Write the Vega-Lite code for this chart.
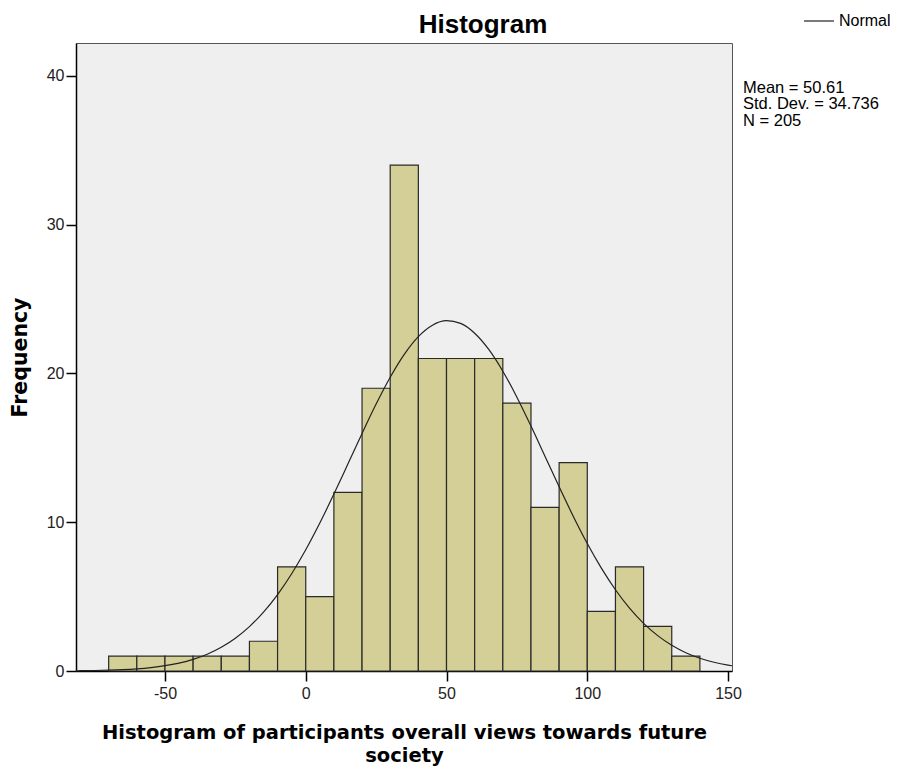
{
  "$schema": "https://vega.github.io/schema/vega-lite/v6.json",
  "autosize": {"type": "none"},
  "width": 656,
  "height": 628,
  "padding": {"left": 76, "top": 43, "right": 168, "bottom": 102},
  "background": "white",
  "title": {
    "text": "Histogram",
    "font": "Liberation Sans",
    "fontSize": 26,
    "fontWeight": "bold",
    "color": "black",
    "anchor": "middle",
    "dx": 79,
    "dy": 43,
    "offset": 10
  },
  "config": {
    "view": {"fill": "#EFEFEF", "stroke": "#555555", "strokeWidth": 1},
    "axis": {
      "grid": false,
      "domainColor": "black",
      "domainWidth": 1.5,
      "tickColor": "black",
      "tickSize": 10,
      "tickWidth": 1.5,
      "labelFont": "Liberation Sans",
      "labelFontSize": 16,
      "labelColor": "#222222",
      "labelExpr": "'' + datum.value",
      "titleFont": "DejaVu Sans",
      "titleFontWeight": "bold",
      "titleColor": "black"
    }
  },
  "datasets": {
    "bins": [
      {"bin_start": -70, "bin_end": -60, "count": 1},
      {"bin_start": -60, "bin_end": -50, "count": 1},
      {"bin_start": -50, "bin_end": -40, "count": 1},
      {"bin_start": -40, "bin_end": -30, "count": 1},
      {"bin_start": -30, "bin_end": -20, "count": 1},
      {"bin_start": -20, "bin_end": -10, "count": 2},
      {"bin_start": -10, "bin_end": 0, "count": 7},
      {"bin_start": 0, "bin_end": 10, "count": 5},
      {"bin_start": 10, "bin_end": 20, "count": 12},
      {"bin_start": 20, "bin_end": 30, "count": 19},
      {"bin_start": 30, "bin_end": 40, "count": 34},
      {"bin_start": 40, "bin_end": 50, "count": 21},
      {"bin_start": 50, "bin_end": 60, "count": 21},
      {"bin_start": 60, "bin_end": 70, "count": 21},
      {"bin_start": 70, "bin_end": 80, "count": 18},
      {"bin_start": 80, "bin_end": 90, "count": 11},
      {"bin_start": 90, "bin_end": 100, "count": 14},
      {"bin_start": 100, "bin_end": 110, "count": 4},
      {"bin_start": 110, "bin_end": 120, "count": 7},
      {"bin_start": 120, "bin_end": 130, "count": 3},
      {"bin_start": 130, "bin_end": 140, "count": 1}
    ],
    "curve": [
      {"x": -81.6, "y": 0.015, "series": "Normal"},
      {"x": -80, "y": 0.020, "series": "Normal"},
      {"x": -75, "y": 0.034, "series": "Normal"},
      {"x": -70, "y": 0.057, "series": "Normal"},
      {"x": -65, "y": 0.093, "series": "Normal"},
      {"x": -60, "y": 0.148, "series": "Normal"},
      {"x": -55, "y": 0.232, "series": "Normal"},
      {"x": -50, "y": 0.355, "series": "Normal"},
      {"x": -45, "y": 0.533, "series": "Normal"},
      {"x": -40, "y": 0.784, "series": "Normal"},
      {"x": -35, "y": 1.129, "series": "Normal"},
      {"x": -30, "y": 1.593, "series": "Normal"},
      {"x": -25, "y": 2.203, "series": "Normal"},
      {"x": -20, "y": 2.983, "series": "Normal"},
      {"x": -15, "y": 3.955, "series": "Normal"},
      {"x": -10, "y": 5.137, "series": "Normal"},
      {"x": -5, "y": 6.535, "series": "Normal"},
      {"x": 0, "y": 8.146, "series": "Normal"},
      {"x": 5, "y": 9.943, "series": "Normal"},
      {"x": 10, "y": 11.887, "series": "Normal"},
      {"x": 15, "y": 13.921, "series": "Normal"},
      {"x": 20, "y": 15.967, "series": "Normal"},
      {"x": 25, "y": 17.940, "series": "Normal"},
      {"x": 30, "y": 19.743, "series": "Normal"},
      {"x": 35, "y": 21.281, "series": "Normal"},
      {"x": 40, "y": 22.470, "series": "Normal"},
      {"x": 45, "y": 23.237, "series": "Normal"},
      {"x": 50, "y": 23.539, "series": "Normal"},
      {"x": 55, "y": 23.356, "series": "Normal"},
      {"x": 60, "y": 22.698, "series": "Normal"},
      {"x": 65, "y": 21.608, "series": "Normal"},
      {"x": 70, "y": 20.146, "series": "Normal"},
      {"x": 75, "y": 18.399, "series": "Normal"},
      {"x": 80, "y": 16.459, "series": "Normal"},
      {"x": 85, "y": 14.422, "series": "Normal"},
      {"x": 90, "y": 12.377, "series": "Normal"},
      {"x": 95, "y": 10.406, "series": "Normal"},
      {"x": 100, "y": 8.567, "series": "Normal"},
      {"x": 105, "y": 6.910, "series": "Normal"},
      {"x": 110, "y": 5.460, "series": "Normal"},
      {"x": 115, "y": 4.224, "series": "Normal"},
      {"x": 120, "y": 3.202, "series": "Normal"},
      {"x": 125, "y": 2.376, "series": "Normal"},
      {"x": 130, "y": 1.728, "series": "Normal"},
      {"x": 135, "y": 1.231, "series": "Normal"},
      {"x": 140, "y": 0.859, "series": "Normal"},
      {"x": 145, "y": 0.587, "series": "Normal"},
      {"x": 150, "y": 0.393, "series": "Normal"},
      {"x": 151.4, "y": 0.350, "series": "Normal"}
    ],
    "stats": [
      {"label": "Mean = 50.61\nStd. Dev. = 34.736\nN = 205"}
    ]
  },
  "layer": [
    {
      "data": {"name": "bins"},
      "mark": {"type": "rect", "fill": "#D3CF96", "stroke": "#2A2A2A", "strokeWidth": 1.2},
      "encoding": {
        "x": {
          "field": "bin_start",
          "type": "quantitative",
          "scale": {"domain": [-81.6, 151.4], "nice": false, "zero": false},
          "axis": {
            "values": [-50, 0, 50, 100, 150],
            "labelPadding": 4,
            "title": ["Histogram of participants overall views towards future", "society"],
            "titleFontSize": 19.5,
            "titlePadding": 22,
            "titleLineHeight": 23
          }
        },
        "x2": {"field": "bin_end"},
        "y": {
          "field": "count",
          "type": "quantitative",
          "scale": {"domain": [0, 42.2], "nice": false},
          "axis": {
            "values": [0, 10, 20, 30, 40],
            "labelPadding": 2,
            "title": "Frequency",
            "titleFontSize": 20.5,
            "titlePadding": 16
          }
        },
        "y2": {"datum": 0}
      }
    },
    {
      "data": {"name": "curve"},
      "mark": {"type": "line", "strokeWidth": 1.2, "interpolate": "monotone"},
      "encoding": {
        "x": {"field": "x", "type": "quantitative"},
        "y": {"field": "y", "type": "quantitative"},
        "color": {
          "field": "series",
          "type": "nominal",
          "scale": {"range": ["#222222"]},
          "legend": {
            "title": null,
            "orient": "none",
            "legendX": 727,
            "legendY": -38,
            "symbolType": "stroke",
            "symbolSize": 900,
            "symbolStrokeWidth": 1.2,
            "labelFont": "Liberation Sans",
            "labelFontSize": 16,
            "labelColor": "black",
            "labelOffset": 4
          }
        }
      }
    },
    {
      "data": {"name": "stats"},
      "mark": {
        "type": "text",
        "align": "left",
        "baseline": "top",
        "lineBreak": "\n",
        "font": "Liberation Sans",
        "fontSize": 16.5,
        "lineHeight": 16.5,
        "color": "black",
        "dx": 11,
        "dy": 4
      },
      "encoding": {
        "x": {"datum": 151.4},
        "y": {"datum": 40},
        "text": {"field": "label"}
      }
    }
  ]
}
